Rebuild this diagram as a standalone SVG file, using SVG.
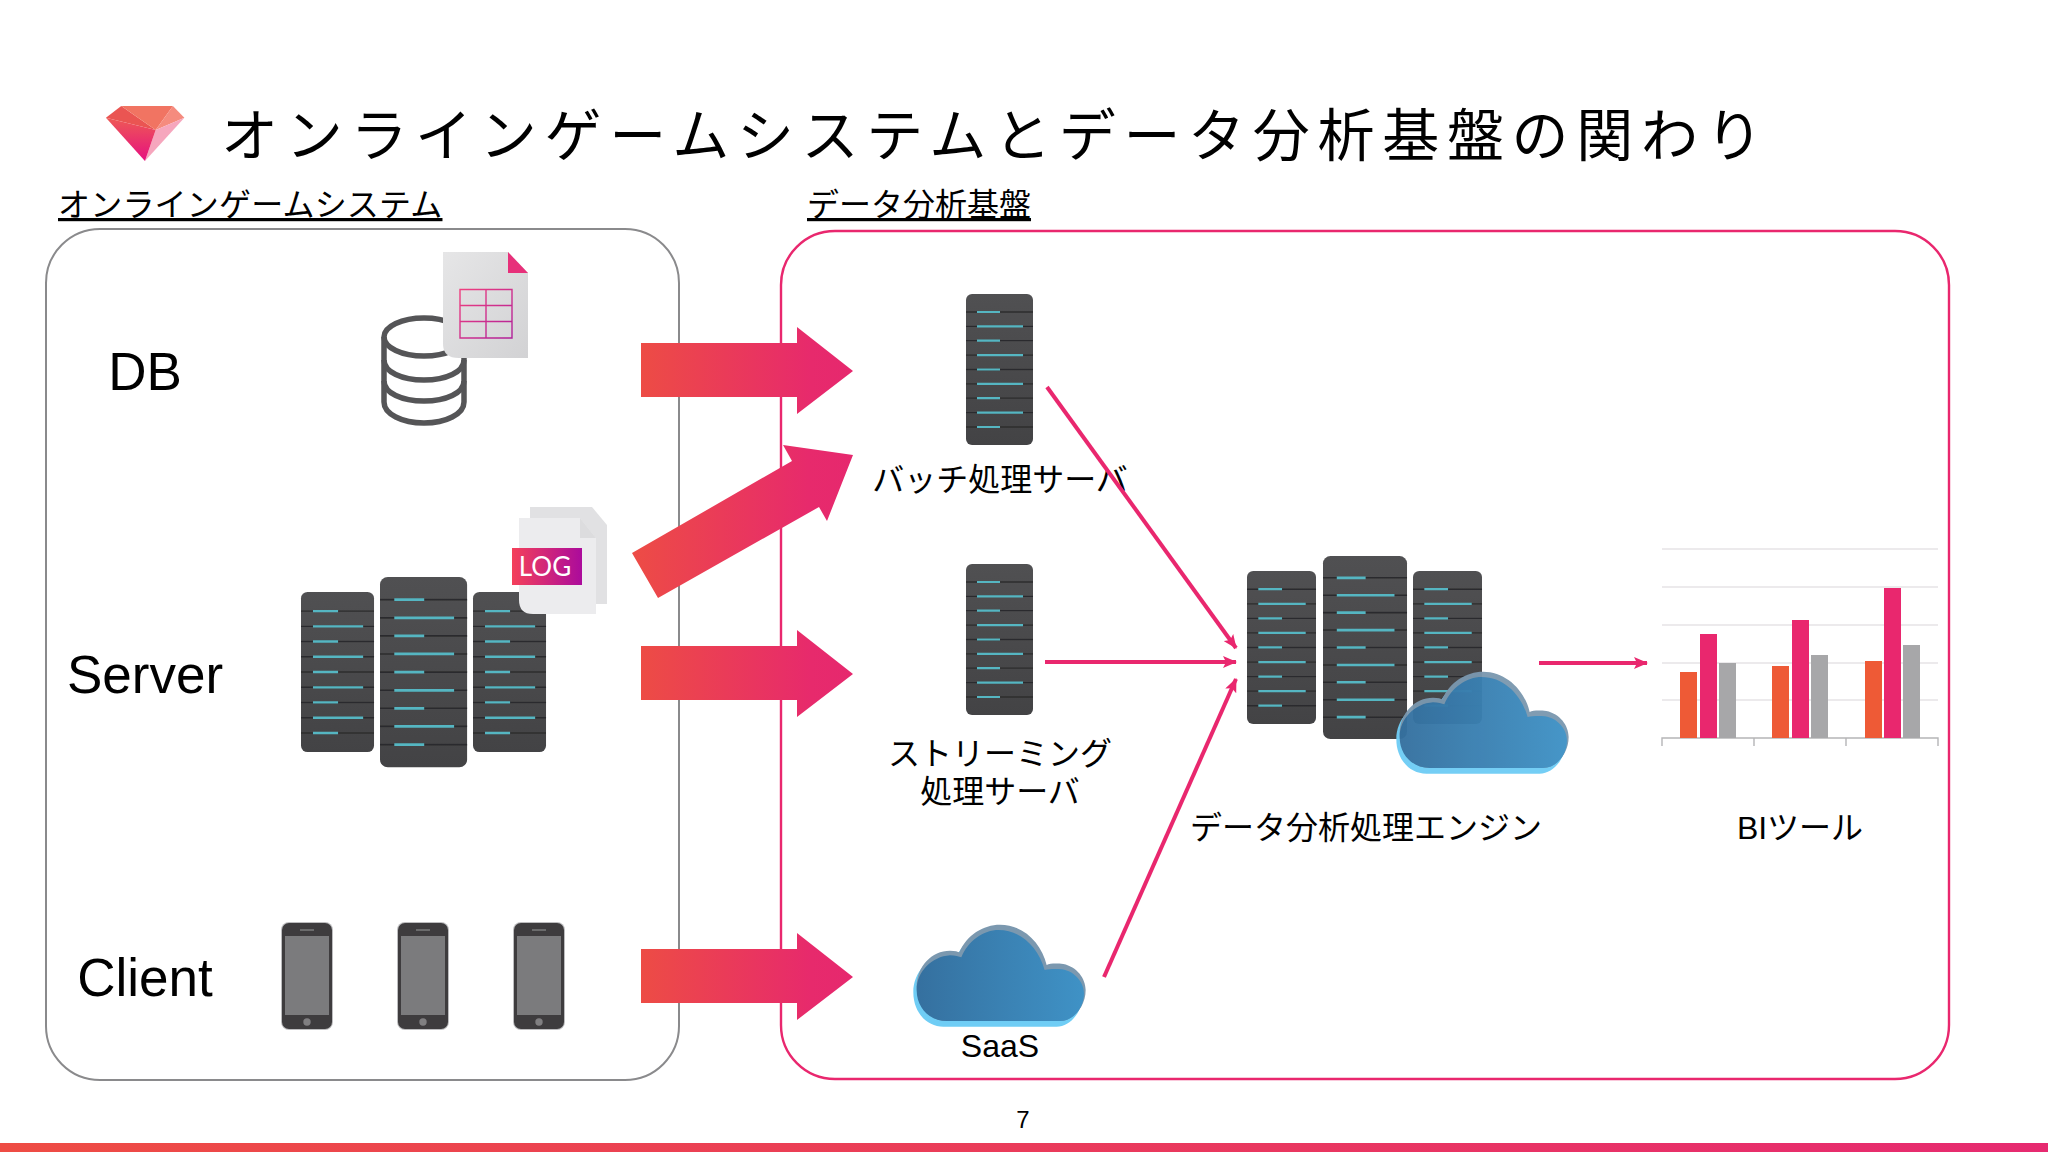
<svg xmlns="http://www.w3.org/2000/svg" width="2048" height="1152" viewBox="0 0 2048 1152">
<style>
text{font-family:"Noto Sans CJK JP","Liberation Sans",sans-serif;fill:#000}
.lat{font-family:"Liberation Sans",Arial,"Noto Sans CJK JP",sans-serif}
.lbl{font-family:"Liberation Sans","Noto Sans CJK JP",sans-serif;font-size:32px;text-anchor:middle}
.big{font-size:53px;text-anchor:middle}
.sub{font-size:32px;text-decoration:underline}
.conn{stroke:#e9276e;stroke-width:4;fill:none;marker-end:url(#ah)}
.rd{stroke:#2c2c2e;stroke-width:1.3}
.rl{stroke:#55b6c2;stroke-width:2.2}
.grid{stroke:#e6e3e6;stroke-width:1.6}
.ax{stroke:#b5b5b7;stroke-width:1.4;fill:none}
.o{fill:#ee5a36}.p{fill:#e9276e}.g{fill:#a7a7a9}
</style>
<defs>
<filter id="sf" x="-5%" y="-5%" width="110%" height="110%"><feGaussianBlur stdDeviation=".45"/></filter>
<linearGradient id="ga" x1="0" x2="1" y1="0" y2="0"><stop offset="0" stop-color="#ed4c45"/><stop offset="0.8" stop-color="#e72a6c"/><stop offset="1" stop-color="#e6286e"/></linearGradient>
<linearGradient id="gb" x1="0" x2="1" y1="0" y2="0"><stop offset="0" stop-color="#ee4c44"/><stop offset="1" stop-color="#e62a70"/></linearGradient>
<linearGradient id="rk" x1="0" x2="0" y1="0" y2="1"><stop offset="0" stop-color="#505052"/><stop offset="1" stop-color="#434345"/></linearGradient>
<linearGradient id="cl" x1="0" x2="1" y1="0" y2="0"><stop offset="0" stop-color="#35709f"/><stop offset="1" stop-color="#3f92c6"/></linearGradient>
<linearGradient id="pg" x1="0" x2="1" y1="0" y2="1"><stop offset="0" stop-color="#e6e6e7"/><stop offset="1" stop-color="#d2d2d4"/></linearGradient>
<linearGradient id="lg" x1="0" x2="1" y1="0" y2="0"><stop offset="0" stop-color="#f4405a"/><stop offset="1" stop-color="#ab0b9c"/></linearGradient>
<linearGradient id="tb" x1="0" x2="1" y1="0" y2="1"><stop offset="0" stop-color="#f0407f"/><stop offset="1" stop-color="#b0209a"/></linearGradient>
<linearGradient id="gm" x1="0" x2="0" y1="0" y2="1"><stop offset="0" stop-color="#ee5a55"/><stop offset="1" stop-color="#e60f80"/></linearGradient>
<marker id="ah" markerUnits="userSpaceOnUse" viewBox="0 0 14 12" refX="13" refY="6" markerWidth="14" markerHeight="12" orient="auto"><path d="M0 0L14 6L0 12L3 6Z" fill="#e9276e"/></marker>
<g id="rack">
<rect width="67" height="151" rx="6" fill="url(#rk)"/>
<g filter="url(#sf)">
<path class="rd" d="M0 18H67M0 32.4H67M0 46.7H67M0 61.1H67M0 75.5H67M0 89.9H67M0 104.200H67M0 118.600H67M0 133H67"/>
<path class="rl" d="M11 18H34M11 32.4H57M11 46.7H34M11 61.1H57M11 75.5H34M11 89.9H57M11 104.200H34M11 118.600H57M11 133H34"/>
</g>
</g>
<g id="cloud">
<path transform="translate(-10 17)" fill="#6fcdf5" d="M140 333C90 333 50 290 50 230C50 170 95 122 150 122C165 122 175 125 178 127C200 75 250 44 300 44C370 44 425 100 440 165C450 160 470 160 490 162C530 170 557 205 557 240C557 290 520 333 480 333Z"/>
<path fill="#7b98af" d="M140 333C90 333 50 290 50 230C50 170 95 122 150 122C165 122 175 125 178 127C200 75 250 44 300 44C370 44 425 100 440 165C450 160 470 160 490 162C530 170 557 205 557 240C557 290 520 333 480 333Z"/>
<path fill="url(#cl)" d="M140 333C90 333 50 295 50 240C50 185 95 140 150 136C165 136 178 140 184 142C205 92 250 60 296 60C362 60 415 112 434 180C450 176 470 176 486 178C525 184 552 218 552 250C552 295 520 333 480 333Z"/>
</g>
<g id="phone">
<rect x="-1" y="-1" width="52" height="108" rx="8" fill="#bdbdbf"/>
<rect width="50" height="106" rx="7" fill="#3e3c3e"/>
<rect x="3" y="13" width="44" height="79" fill="#7b7b7d"/>
<path d="M18 7H32" stroke="#8a8a8c" stroke-width="1.2"/>
<circle cx="25" cy="99" r="3.7" fill="#807f81"/>
</g>
</defs>
<rect width="2048" height="1152" fill="#fff"/>
<g id="title">
<g transform="translate(60 80) scale(.3827 .3333)">
<path d="M120 113L160 78L250 150Z" fill="#ea5552"/>
<path d="M160 78L295 78L250 150Z" fill="#f17462"/>
<path d="M295 78L325 113L250 150Z" fill="#f58b7e"/>
<path d="M250 150L325 113L222 243Z" fill="#f6a6bd"/>
<path d="M120 113L250 150L222 243Z" fill="url(#gm)"/>
</g>
<text x="221" y="156" font-size="57" letter-spacing="7.700">オンラインゲームシステムとデータ分析基盤の関わり</text>
</g>
<g id="group-game">
<text class="sub" x="58" y="216" letter-spacing=".2">オンラインゲームシステム</text>
<rect x="46" y="229" width="633" height="851" rx="54" fill="none" stroke="#8a8a8c" stroke-width="2"/>
</g>
<g id="group-analytics">
<text class="sub" x="807" y="216">データ分析基盤</text>
<rect x="781" y="231" width="1168" height="848" rx="54" fill="none" stroke="#e9276e" stroke-width="2.400"/>
</g>
<g id="node-db">
<text class="lat big" x="145" y="390">DB</text>
<g fill="none" stroke="#555557" stroke-width="5.500">
<ellipse cx="424" cy="337" rx="40" ry="19"/>
<path d="M384 337V402C384 414 402 423 424 423C446 423 464 414 464 402V337"/>
<path d="M384 360C384 372 402 380 424 380C446 380 464 372 464 360M384 381C384 393 402 401 424 401C446 401 464 393 464 381"/>
</g>
<path d="M443 252H508L528 273V358H459Q443 358 443 344Z" fill="url(#pg)"/>
<path d="M508 252L528 273H508Z" fill="#e7307a"/>
<path d="M460 289.500H512V338H460ZM486 289.500V338M460 305.500H512M460 321.500H512" fill="none" stroke="url(#tb)" stroke-width="1.400"/>
</g>
<g id="node-server">
<text class="lat big" x="145" y="693">Server</text>
<use href="#rack" transform="translate(301 592) scale(1.09 1.06)"/>
<use href="#rack" transform="translate(380 577) scale(1.3 1.26)"/>
<use href="#rack" transform="translate(473 592) scale(1.09 1.06)"/>
<path d="M530 507H592L607 525V604H530Z" fill="#e1e1e3"/>
<path d="M519 518H580L596 538V614H533Q519 614 519 600Z" fill="#ececee"/>
<path d="M580 518L596 538H580Z" fill="#dcdcde"/>
<rect x="512" y="548" width="70" height="37" fill="url(#lg)"/>
<text x="545" y="576" font-size="26" text-anchor="middle" style="font-family:Lato,'Open Sans',sans-serif;fill:#fff">LOG</text>
</g>
<g id="node-client">
<text class="lat big" x="145" y="996">Client</text>
<use href="#phone" x="282" y="923"/>
<use href="#phone" x="398" y="923"/>
<use href="#phone" x="514" y="923"/>
</g>
<g id="node-batch">
<use href="#rack" x="966" y="294"/>
<text class="lbl" x="1000" y="491">バッチ処理サーバ</text>
</g>
<g id="node-stream">
<use href="#rack" x="966" y="564"/>
<text class="lbl"><tspan x="1000" y="765">ストリーミング</tspan><tspan x="1000" y="803">処理サーバ</tspan></text>
</g>
<g id="node-saas">
<use href="#cloud" transform="translate(900 910) scale(.3333)"/>
<text class="lat lbl" x="1000" y="1057">SaaS</text>
</g>
<g id="node-engine">
<use href="#rack" transform="translate(1247 571) scale(1.03 1.013)"/>
<use href="#rack" transform="translate(1323 556) scale(1.254 1.212)"/>
<use href="#rack" transform="translate(1413 571) scale(1.03 1.013)"/>
<use href="#cloud" opacity=".96" transform="translate(1383 657) scale(.3333)"/>
<text class="lbl" x="1366" y="839">データ分析処理エンジン</text>
</g>
<g id="node-bi">
<path class="grid" d="M1662 549H1938M1662 587H1938M1662 625H1938M1662 663H1938M1662 700H1938"/>
<path class="ax" d="M1662 746V738H1938V746M1754 738V746M1846 738V746"/>
<rect class="o" x="1680" y="672" width="17" height="66"/>
<rect class="p" x="1700" y="634" width="17" height="104"/>
<rect class="g" x="1719" y="663" width="17" height="75"/>
<rect class="o" x="1772" y="666" width="17" height="72"/>
<rect class="p" x="1792" y="620" width="17" height="118"/>
<rect class="g" x="1811" y="655" width="17" height="83"/>
<rect class="o" x="1865" y="661" width="17" height="77"/>
<rect class="p" x="1884" y="588" width="17" height="150"/>
<rect class="g" x="1903" y="645" width="17" height="93"/>
<text class="lbl" x="1800" y="839">BIツール</text>
</g>
<g id="connectors">
<path fill="url(#ga)" d="M641 343H797V327L853 371L797 414V397H641Z"/>
<path fill="url(#ga)" d="M641 646H797V630L853 674L797 717V700H641Z"/>
<path fill="url(#ga)" d="M641 949H797V933L853 977L797 1020V1003H641Z"/>
<path fill="url(#ga)" d="M632 553L792 461L783 445L853 455L827 521L819 507L658 598Z"/>
<path class="conn" d="M1047 387L1236 648"/>
<path class="conn" d="M1045 662H1236"/>
<path class="conn" d="M1104 977L1236 679"/>
<path class="conn" d="M1539 663H1647"/>
</g>
<g id="footer">
<text class="lat" x="1023" y="1128" font-size="24" text-anchor="middle">7</text>
<rect y="1143" width="2048" height="9" fill="url(#gb)"/>
</g>
</svg>
